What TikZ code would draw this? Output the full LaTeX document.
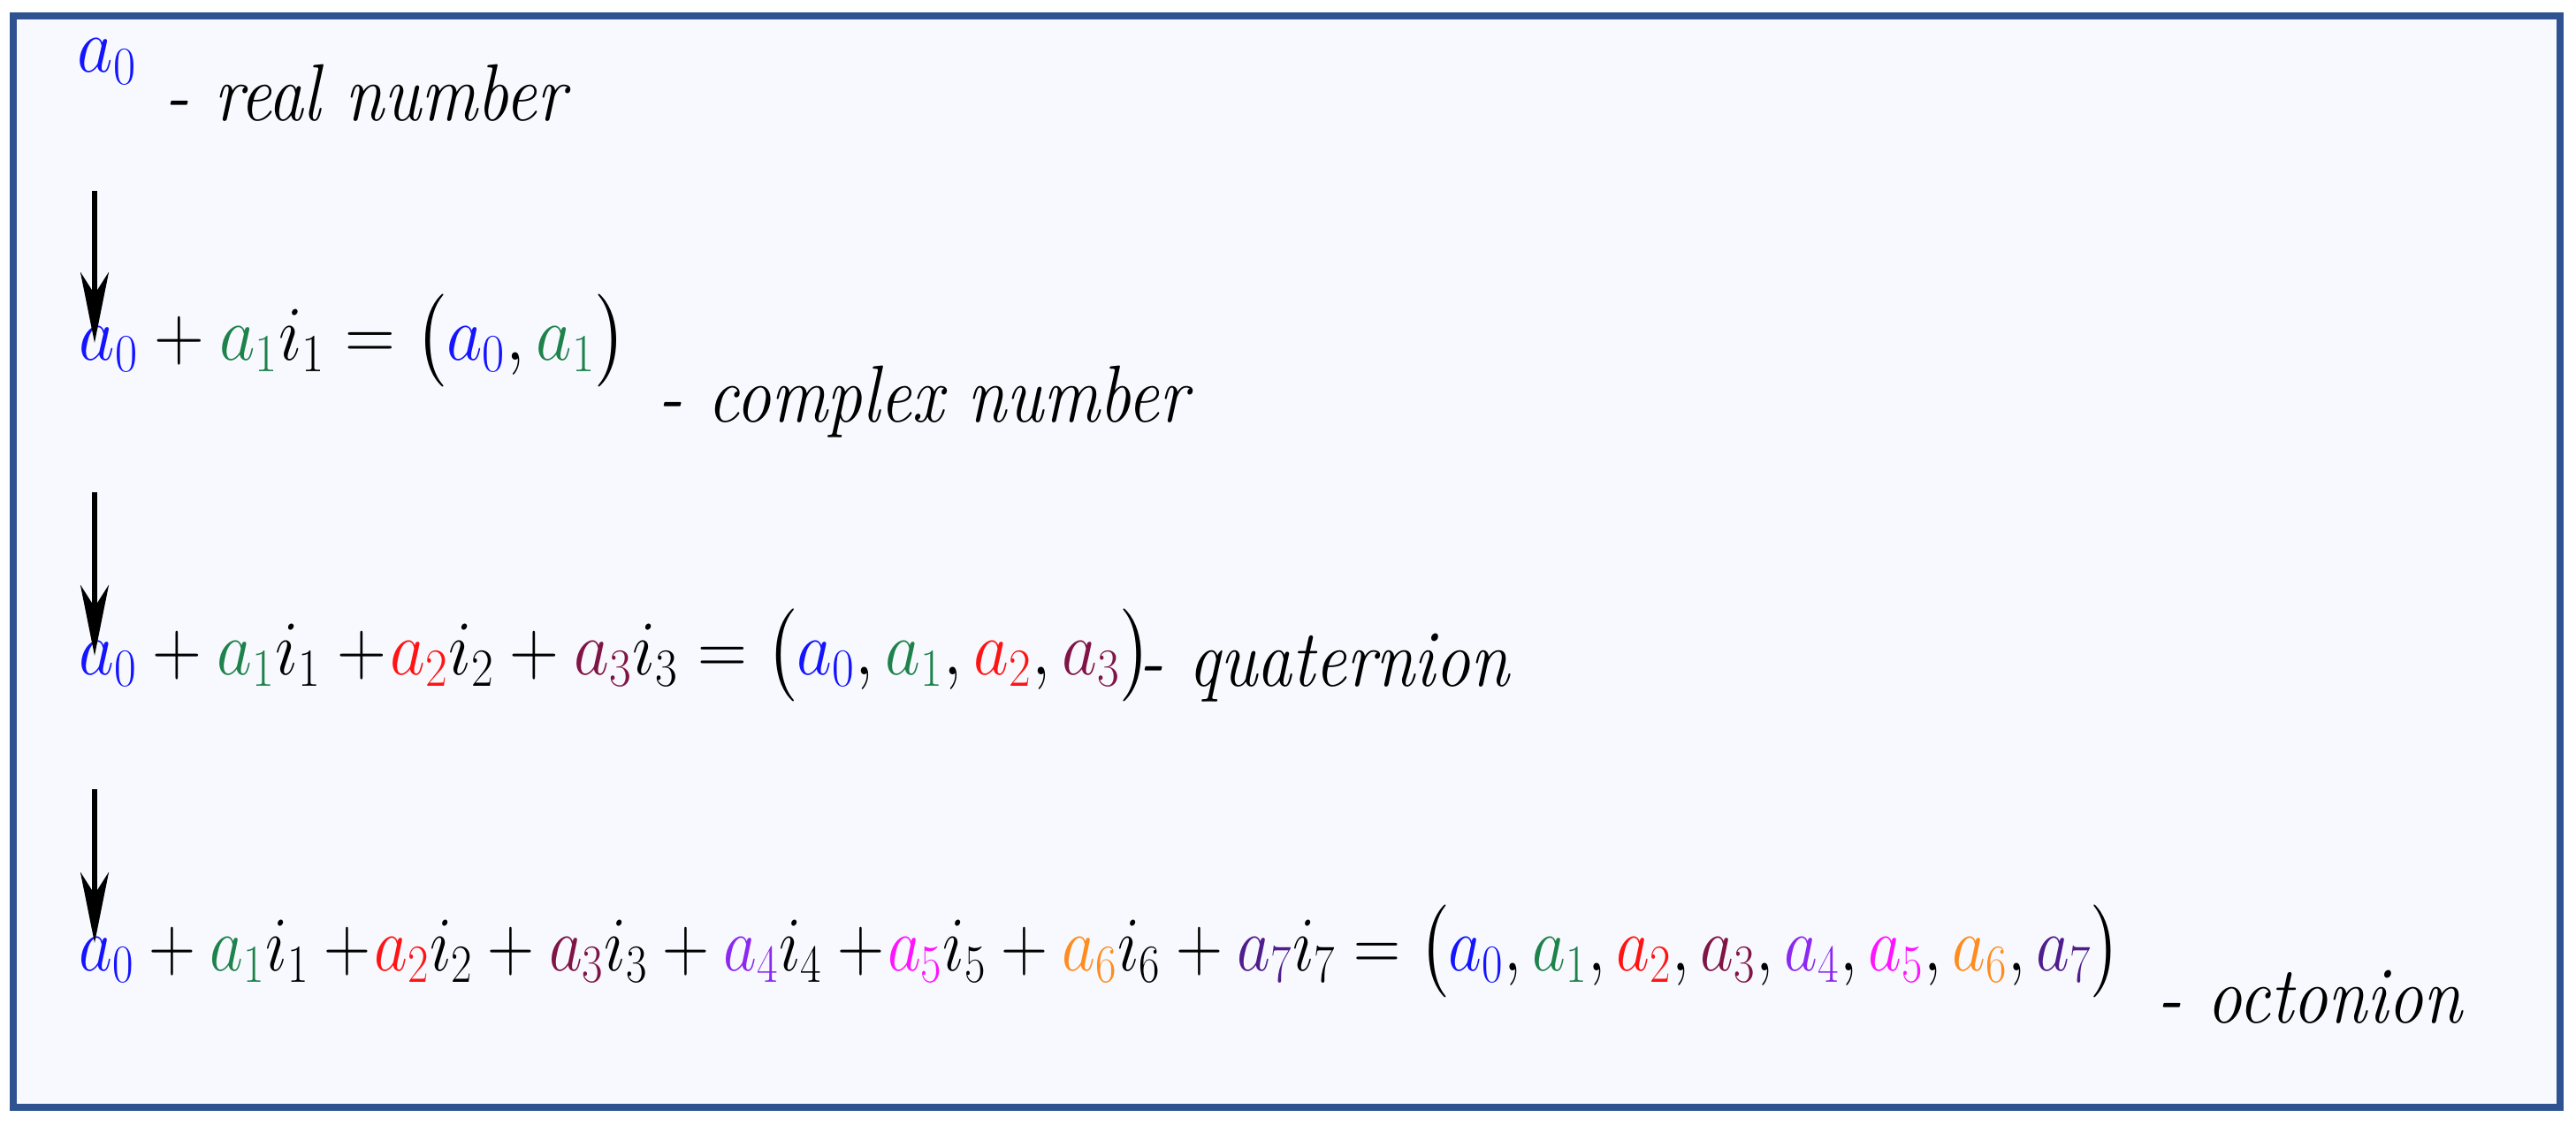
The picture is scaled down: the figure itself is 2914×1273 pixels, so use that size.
\documentclass[tikz,border=0pt]{standalone}
\usepackage{graphicx}
\usepackage{exscale}
\usetikzlibrary{arrows.meta}

\definecolor{frameblue}{RGB}{47,83,144}
\definecolor{paper}{RGB}{247,249,254}
\definecolor{k0}{RGB}{20,20,255}
\definecolor{k1}{RGB}{30,130,75}
\definecolor{k2}{RGB}{255,20,20}
\definecolor{k3}{RGB}{128,20,70}
\definecolor{k4}{RGB}{140,40,240}
\definecolor{k5}{RGB}{255,20,255}
\definecolor{k6}{RGB}{255,140,30}
\definecolor{k7}{RGB}{80,30,140}

\newcommand{\co}[1]{{\color{k#1}a_{#1}}}
\newcommand{\squeeze}[2]{\scalebox{#1}[1]{#2}}

\tikzstyle{panel}=[draw=frameblue, line width=0.8mm, fill=paper]
\tikzstyle{formula}=[anchor=base west, inner sep=0pt, font=\fontsize{26}{31}\selectfont]
\tikzstyle{typename}=[formula, font=\fontsize{26}{31}\selectfont\itshape]
\tikzstyle{downarrow}=[-{Stealth[length=8mm, width=3.2mm, inset=2.5mm]}, line width=0.6mm]
\def\arrx{107}
\def\namesq{0.87}

\begin{document}
\begin{tikzpicture}[x=0.01cm, y=-0.01cm]
	\useasboundingbox (0,0) rectangle (2914,1273);
	\path[panel] (15,18) rectangle (2896,1253);

	\node (real) [formula] at (87,82) {\squeeze{0.9}{$\co0$}};
	\node (realname) [typename] at (186,137) {\squeeze{\namesq}{- real number}};

	\node (cplx) [formula] at (89,407)
		{\squeeze{0.9}{$\co0 + \co1 i_1 = \bigl(\co0, \co1\bigr)$}};
	\node (cplxname) [typename] at (744,477) {\squeeze{\namesq}{- complex number}};

	\node (quat) [formula] at (89,763)
		{\squeeze{0.885}{$\co0 + \co1 i_1 +\!\co2 i_2 + \co3 i_3
		= \bigl(\co0, \co1, \co2, \co3\bigr)$}};
	\node (quatname) [typename] at (1288,776) {\squeeze{\namesq}{- quaternion}};

	\node (octo) [formula] at (89,1098)
		{\squeeze{0.84}{$\co0 + \co1 i_1 +\!\co2 i_2 + \co3 i_3 + \co4 i_4 +\!\co5 i_5
		+ \co6 i_6 + \co7 i_7
		= \bigl(\co0, \co1, \co2, \co3, \co4, \co5, \co6, \co7\bigr)$}};
	\node (octoname) [typename] at (2440,1157) {\squeeze{\namesq}{- octonion}};

	% arrows between the lines
	\coordinate (top1) at (\arrx,216);
	\coordinate (tip1) at (\arrx,388);
	\coordinate (top2) at (\arrx,557);
	\coordinate (tip2) at (\arrx,742);
	\coordinate (top3) at (\arrx,893);
	\coordinate (tip3) at (\arrx,1067);
	\draw [downarrow] (top1) -- (tip1);
	\draw [downarrow] (top2) -- (tip2);
	\draw [downarrow] (top3) -- (tip3);
\end{tikzpicture}
\end{document}
